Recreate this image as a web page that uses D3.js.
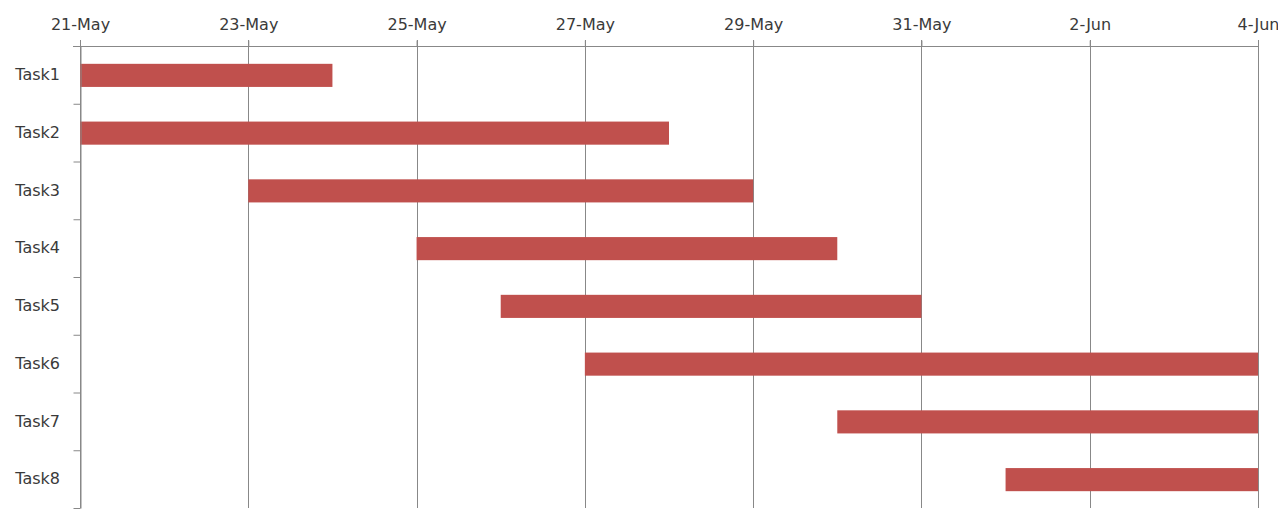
<!DOCTYPE html>
<html>
<head>
<meta charset="utf-8">
<script src="https://cdn.jsdelivr.net/npm/d3@7"></script>
<style>
  html, body { margin: 0; padding: 0; background: #ffffff; }
  svg { display: block; }
  text { font-family: "DejaVu Sans", sans-serif; fill: #3a3a3a; }
</style>
</head>
<body>
<svg id="chart" width="1278" height="514"></svg>
<script>
const tasks = ["Task1", "Task2", "Task3", "Task4", "Task5", "Task6", "Task7", "Task8"];
const startDates = ["2013-05-21", "2013-05-21", "2013-05-23", "2013-05-25", "2013-05-26", "2013-05-27", "2013-05-30", "2013-06-01"];
const endDates   = ["2013-05-24", "2013-05-28", "2013-05-29", "2013-05-30", "2013-05-31", "2013-06-04", "2013-06-04", "2013-06-04"];
const tickDates  = ["2013-05-21", "2013-05-23", "2013-05-25", "2013-05-27", "2013-05-29", "2013-05-31", "2013-06-02", "2013-06-04"];
const tickLabels = ["21-May", "23-May", "25-May", "27-May", "29-May", "31-May", "2-Jun", "4-Jun"];

const parse = d3.utcParse("%Y-%m-%d");
const rows = tasks.map((t, i) => ({ task: t, start: parse(startDates[i]), end: parse(endDates[i]) }));
const ticks = tickDates.map(parse);

const svg = d3.select("#chart");
const mLeft = 80, mRight = 1258, mTop = 46, mBottom = 508;

const x = d3.scaleUtc().domain([ticks[0], ticks[ticks.length - 1]]).range([mLeft, mRight]);
const y = d3.scaleBand().domain(tasks).range([mTop, mBottom]).paddingInner(0.6).paddingOuter(0.3);
const yEdge = d3.scaleLinear().domain([0, tasks.length]).range([mTop, mBottom]);

// vertical gridlines
svg.append("g")
  .selectAll("line")
  .data(ticks)
  .join("line")
  .attr("x1", d => Math.round(x(d)) + 0.5)
  .attr("x2", d => Math.round(x(d)) + 0.5)
  .attr("y1", mTop - 6)
  .attr("y2", mBottom)
  .attr("stroke", "#888888")
  .attr("stroke-width", 1);

// bars
svg.append("g")
  .selectAll("rect")
  .data(rows)
  .join("rect")
  .attr("x", d => x(d.start))
  .attr("y", d => y(d.task) + 0.5)
  .attr("width", d => x(d.end) - x(d.start))
  .attr("height", y.bandwidth())
  .attr("fill", "#c0504d");

// top axis
const xAxis = d3.axisTop(x)
  .tickValues(ticks)
  .tickFormat((d, i) => tickLabels[i])
  .tickSizeInner(6)
  .tickSizeOuter(0)
  .tickPadding(11);
const gx = svg.append("g").attr("transform", `translate(0,${mTop + 0.5})`).call(xAxis);
gx.select(".domain").attr("stroke", "#888888").attr("d", `M${mLeft - 7},0H${mRight}`);
gx.selectAll(".tick line").attr("stroke", "#888888");
gx.selectAll(".tick text").attr("font-size", "16px").attr("font-family", "DejaVu Sans, sans-serif").attr("fill", "#3a3a3a");

// left axis: boundary ticks
const yAxisEdges = d3.axisLeft(yEdge)
  .tickValues(d3.range(0, tasks.length + 1))
  .tickFormat("")
  .tickSizeInner(7)
  .tickSizeOuter(0);
const gyE = svg.append("g").attr("transform", `translate(${mLeft + 0.5},0)`).call(yAxisEdges);
gyE.select(".domain").attr("stroke", "#888888");
gyE.selectAll(".tick line").attr("stroke", "#888888");

// left axis: category labels
const yAxis = d3.axisLeft(y).tickSize(0).tickPadding(20);
const gy = svg.append("g").attr("transform", `translate(${mLeft},0)`).call(yAxis);
gy.select(".domain").remove();
gy.selectAll(".tick text").attr("font-size", "16px").attr("font-family", "DejaVu Sans, sans-serif").attr("fill", "#3a3a3a");
</script>
</body>
</html>
